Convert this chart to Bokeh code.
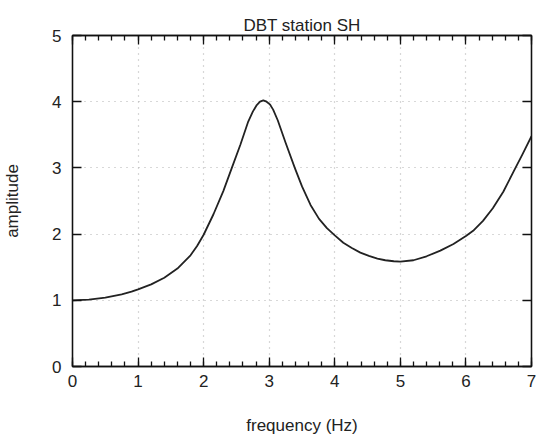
from bokeh.plotting import figure
from bokeh.models import LinearAxis, SingleIntervalTicker, Range1d
from bokeh.embed import file_html
from bokeh.resources import INLINE

freq = [0.0, 0.25, 0.5, 0.75, 0.9, 1.0, 1.2, 1.4, 1.6, 1.8, 1.9, 2.0, 2.15, 2.3,
        2.43, 2.56, 2.68, 2.75, 2.81, 2.86, 2.91, 2.96, 3.01, 3.06, 3.13, 3.25,
        3.39, 3.5, 3.63, 3.76, 3.88, 4.0, 4.13, 4.26, 4.39, 4.52, 4.65, 4.77, 4.9,
        5.0, 5.2, 5.4, 5.61, 5.81, 6.0, 6.11, 6.26, 6.41, 6.57, 6.73, 6.86, 7.0]
amp = [1.0, 1.01, 1.04, 1.09, 1.13, 1.165, 1.24, 1.34, 1.48, 1.68, 1.82, 1.99, 2.3, 2.65,
       3.0, 3.35, 3.7, 3.85, 3.95, 4.0, 4.02, 4.0, 3.96, 3.88, 3.72, 3.38,
       3.0, 2.72, 2.44, 2.23, 2.09, 1.98, 1.87, 1.79, 1.72, 1.67, 1.63, 1.605, 1.59,
       1.585, 1.605, 1.665, 1.75, 1.85, 1.97, 2.05, 2.2, 2.39, 2.64, 2.95, 3.2, 3.48]

title_text = "DBT station SH"
x_label = "frequency (Hz)"
y_label = "amplitude"

FONT = "Liberation Sans"
TXT = "#222222"

p = figure(frame_width=459, frame_height=331,
           min_border_left=64, min_border_top=35, min_border_right=6, min_border_bottom=60,
           x_range=Range1d(0, 7), y_range=Range1d(0, 5),
           output_backend="svg", toolbar_location=None, title=title_text)

p.title.align = "center"
p.title.text_font = FONT
p.title.text_font_size = "17px"
p.title.text_font_style = "normal"
p.title.text_color = TXT
p.title.standoff = 2

p.outline_line_color = "#111111"
p.outline_line_width = 1.3

xt = SingleIntervalTicker(interval=1, num_minor_ticks=5)
yt = SingleIntervalTicker(interval=1, num_minor_ticks=0)

def style(ax, labels=True, minor=True):
    ax.axis_line_color = "#111111"
    ax.axis_line_width = 1.3
    ax.major_tick_line_color = "#111111"
    ax.major_tick_line_width = 1.3
    ax.minor_tick_line_color = "#111111"
    ax.minor_tick_line_width = 1.3
    ax.major_tick_in = 9
    ax.major_tick_out = 0
    ax.minor_tick_in = 5 if minor else 0
    ax.minor_tick_out = 0
    ax.major_label_text_font = FONT
    ax.major_label_text_font_size = "17px"
    ax.major_label_text_color = TXT
    ax.axis_label_text_font = FONT
    ax.axis_label_text_font_size = "17px"
    ax.axis_label_text_font_style = "normal"
    ax.axis_label_text_color = TXT
    if not labels:
        ax.major_label_text_font_size = "0px"
        ax.major_label_text_alpha = 0

xa = p.xaxis[0]
xa.ticker = xt
xa.axis_label = x_label
style(xa)
xa.major_label_standoff = 8
xa.axis_label_standoff = 26

ya = p.yaxis[0]
ya.ticker = yt
ya.axis_label = y_label
style(ya, minor=False)
ya.major_label_standoff = 11
ya.axis_label_standoff = 27

top = LinearAxis(ticker=SingleIntervalTicker(interval=1, num_minor_ticks=5))
style(top, labels=False)
top.major_label_standoff = 0
p.add_layout(top, "above")

right = LinearAxis(ticker=SingleIntervalTicker(interval=1, num_minor_ticks=0))
style(right, labels=False, minor=False)
right.major_label_standoff = 0
p.add_layout(right, "right")

p.xgrid.ticker = xt
p.ygrid.ticker = yt
for g in (p.xgrid[0], p.ygrid[0]):
    g.grid_line_color = "#b0b0b0"
    g.grid_line_dash = "1 5"
    g.grid_line_width = 1.2

p.line(freq, amp, line_color="#222222", line_width=1.8, line_join="round")

p.background_fill_color = "white"
p.border_fill_color = "white"

open("out.html", "w").write(file_html(p, INLINE))
